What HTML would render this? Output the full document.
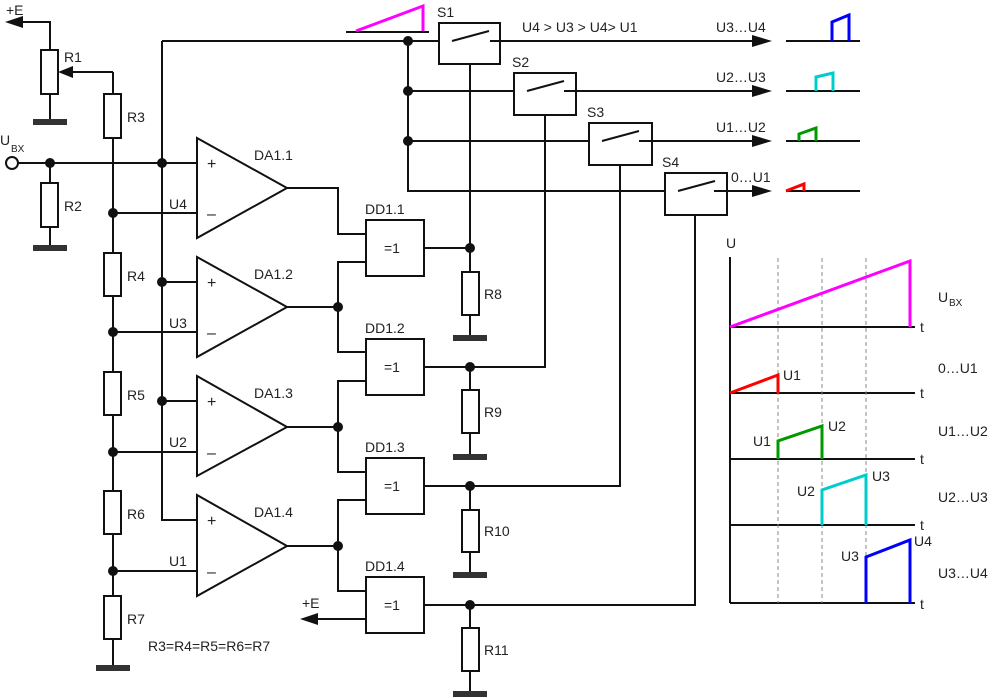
<!DOCTYPE html><html><head><meta charset="utf-8"><style>body{margin:0;background:#fff}svg{display:block}text{font-family:"Liberation Sans",sans-serif;font-size:14px;fill:#222}</style></head><body>
<svg width="1000" height="698" viewBox="0 0 1000 698">
<g stroke="#111" stroke-width="2" fill="none">
<path d="M20,22H50V50M41,50h17v44h-17zM50,94V120"/>
<path d="M113,72H62M113,72V94M104,94h17v44h-17zM113,138V253M104,253h17v43h-17zM113,296V372M104,372h17v43h-17zM113,415V491M104,491h17v43h-17zM113,534V596M104,596h17v43h-17zM113,639V666"/>
<path d="M18,163H197M50,163V183M41,183h17v44h-17zM50,227V246"/>
<path d="M162,41V520H197M162,282H197M162,401H197"/>
<path d="M113,213H197M113,332H197M113,452H197M113,571H197"/>
<path d="M197,138L287,188L197,238ZM197,257L287,307L197,357ZM197,376L287,427L197,476ZM197,495L287,546L197,596Z"/>
<path d="M287,188H338V234H366M287,307H338V262H366M338,307V352H366M287,427H338V381H366M338,427V472H366M287,546H338V500H366M338,546V591H366M366,619H318"/>
<rect x="366" y="220" width="58" height="56"/><rect x="366" y="339" width="58" height="56"/><rect x="366" y="458" width="58" height="56"/><rect x="366" y="577" width="58" height="56"/>
<path d="M424,248H470M424,367H545V115M424,486H620V165M424,605H695V215M470,64V248"/>
<path d="M470,248V272M462,272h17v43h-17zM470,315V335M470,367V390M462,390h17v43h-17zM470,433V454M470,486V510M462,510h17v42h-17zM470,552V573M470,605V628M462,628h17v43h-17zM470,671V692"/>
<rect x="439" y="23" width="61" height="41"/><rect x="514" y="73" width="62" height="42"/><rect x="589" y="123" width="63" height="42"/><rect x="665" y="173" width="62" height="42"/>
<path d="M162,41H439M452,41L489,31M490,41H756M408,41V191H665M408,91H514M527,91L564,81M564,91H756M408,141H589M602,141L639,131M639,141H756M678,191L715,181M714,191H756"/>
<path d="M346,32H429"/>
<path d="M786,41H860M786,91H860M786,141H860M786,191H860"/>
<path d="M730,257V603M730,327H915M730,393H915M730,459H915M730,525H915M730,603H915"/>
</g>
<g fill="#111">
<path d="M5,22L23,16V28Z"/><path d="M58,72L73,66V78Z"/><path d="M300,619L318,613V625Z"/>
<path d="M772,41L752,35V47ZM772,91L752,85V97ZM772,141L752,135V147ZM772,191L752,185V197Z"/>
<g fill="#333"><rect x="33" y="119" width="34" height="6"/><rect x="33" y="245" width="34" height="6"/><rect x="96" y="665" width="34" height="6"/><rect x="453" y="335" width="34" height="6"/><rect x="453" y="454" width="34" height="6"/><rect x="453" y="572" width="34" height="6"/><rect x="453" y="691" width="34" height="6"/></g>
<circle cx="50" cy="163" r="5"/><circle cx="162" cy="163" r="5"/><circle cx="162" cy="282" r="5"/><circle cx="162" cy="401" r="5"/>
<circle cx="113" cy="213" r="5"/><circle cx="113" cy="332" r="5"/><circle cx="113" cy="452" r="5"/><circle cx="113" cy="571" r="5"/>
<circle cx="338" cy="307" r="5"/><circle cx="338" cy="427" r="5"/><circle cx="338" cy="546" r="5"/>
<circle cx="470" cy="248" r="5"/><circle cx="470" cy="367" r="5"/><circle cx="470" cy="486" r="5"/><circle cx="470" cy="605" r="5"/>
<circle cx="408" cy="41" r="5"/><circle cx="408" cy="91" r="5"/><circle cx="408" cy="141" r="5"/>
</g>
<circle cx="12" cy="163" r="6" fill="#fff" stroke="#111" stroke-width="2"/>
<path d="M356,31L423,6V31" stroke="#f0f" stroke-width="3" fill="none"/>
<path d="M832,41V22L849,15V41" stroke="#00f" stroke-width="3" fill="none"/>
<path d="M816,91V77L833,73V91" stroke="#0cc" stroke-width="3" fill="none"/>
<path d="M799,141V134L816,128V141" stroke="#090" stroke-width="3" fill="none"/>
<path d="M786,191L804,184V191" stroke="#f00" stroke-width="3" fill="none"/>
<g stroke="#888" stroke-dasharray="4,3" stroke-width="1"><path d="M778,258V603M822,258V603M866,258V603"/></g>
<g stroke-width="3" fill="none">
<path d="M730,327L910,261V327" stroke="#f0f"/>
<path d="M730,393L778,375V393" stroke="#f00"/>
<path d="M778,459V441L822,426V459" stroke="#090"/>
<path d="M822,525V490L866,475V525" stroke="#0cc"/>
<path d="M866,603V557L910,540V603" stroke="#00f"/>
</g>
<g>
<text x="6" y="15">+E</text><text x="64" y="62">R1</text><text x="127" y="122">R3</text><text x="64" y="211">R2</text>
<text x="0" y="145">U</text><text x="11" y="152" style="font-size:10px">BX</text>
<text x="127" y="281">R4</text><text x="127" y="400">R5</text><text x="127" y="519">R6</text><text x="127" y="624">R7</text>
<text x="207" y="169" style="font-size:16px">+</text><text x="207" y="219" style="font-size:16px">–</text>
<text x="207" y="288" style="font-size:16px">+</text><text x="207" y="338" style="font-size:16px">–</text>
<text x="207" y="407" style="font-size:16px">+</text><text x="207" y="458" style="font-size:16px">–</text>
<text x="207" y="526" style="font-size:16px">+</text><text x="207" y="577" style="font-size:16px">–</text>
<text x="169" y="209">U4</text><text x="169" y="328">U3</text><text x="169" y="447">U2</text><text x="169" y="566">U1</text>
<text x="254" y="160">DA1.1</text><text x="254" y="279">DA1.2</text><text x="254" y="398">DA1.3</text><text x="254" y="517">DA1.4</text>
<text x="365" y="214">DD1.1</text><text x="365" y="333">DD1.2</text><text x="365" y="452">DD1.3</text><text x="365" y="571">DD1.4</text>
<text x="384" y="253">=1</text><text x="384" y="372">=1</text><text x="384" y="491">=1</text><text x="384" y="610">=1</text>
<text x="484" y="299">R8</text><text x="484" y="417">R9</text><text x="484" y="536">R10</text><text x="484" y="655">R11</text>
<text x="302" y="608">+E</text><text x="148" y="651">R3=R4=R5=R6=R7</text>
<text x="437" y="17">S1</text><text x="512" y="67">S2</text><text x="587" y="117">S3</text><text x="662" y="167">S4</text>
<text x="522" y="32">U4 &gt; U3 &gt; U4&gt; U1</text>
<text x="716" y="32">U3…U4</text><text x="716" y="82">U2…U3</text><text x="716" y="132">U1…U2</text><text x="731" y="182">0…U1</text>
<text x="726" y="248">U</text>
<text x="920" y="332">t</text><text x="920" y="398">t</text><text x="920" y="464">t</text><text x="920" y="530">t</text><text x="920" y="609">t</text>
<text x="938" y="302">U</text><text x="949" y="306" style="font-size:10px">BX</text>
<text x="938" y="373">0…U1</text><text x="938" y="436">U1…U2</text><text x="938" y="502">U2…U3</text><text x="938" y="578">U3…U4</text>
<text x="783" y="380">U1</text><text x="753" y="446">U1</text><text x="828" y="431">U2</text>
<text x="797" y="496">U2</text><text x="872" y="481">U3</text><text x="841" y="561">U3</text><text x="914" y="546">U4</text>
</g>
</svg></body></html>
